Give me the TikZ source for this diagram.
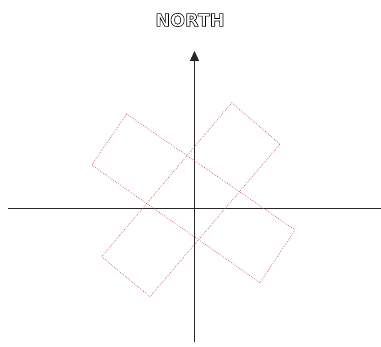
\documentclass[tikz,border=0pt]{standalone}
\usepackage{fontspec}
\newfontfamily\northfont{DejaVu Sans Bold}
\usetikzlibrary{arrows.meta}

\begin{document}
\begin{tikzpicture}[x=0.75pt, y=-0.75pt,
  axis/.style={line width=0.8pt, black!85},
  outline/.style={red!55!gray!90, densely dotted, line width=0.5pt}]
\useasboundingbox (0,0) rectangle (381,346);
% axes
\coordinate (west) at (8,208.3);
\coordinate (east) at (381,208.3);
\coordinate (south) at (194.5,342);
\coordinate (tip) at (194.5,51);
\draw[axis] (west) -- (east);
\draw[axis, -{Triangle[width=6.8pt, length=7.5pt]}] (south) -- (tip);
\node[font=\northfont\fontsize{13.2}{15}\selectfont, inner sep=0pt] (north) at (190,20)
  {\special{pdf:literal direct 1 Tr 0.45 w}NORTH\special{pdf:literal direct 0 Tr}};
% crossing boxes
\draw[outline] (126.7,114) -- (295,230) -- (260,282.7) -- (91.7,165) -- cycle;
\draw[outline] (231.7,102.7) -- (280,144) -- (150,296.7) -- (101.7,256.7) -- cycle;
\end{tikzpicture}
\end{document}
